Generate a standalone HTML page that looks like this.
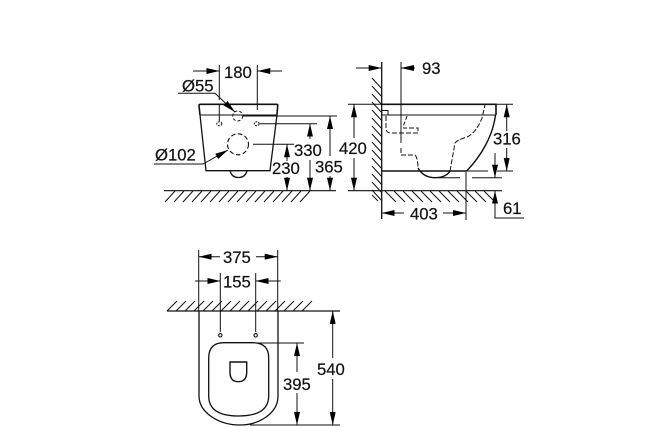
<!DOCTYPE html>
<html>
<head>
<meta charset="utf-8">
<style>
html,body{margin:0;padding:0;background:#fff}
svg{display:block}
text{font-family:"Liberation Sans",sans-serif;font-size:16.7px;fill:#111;stroke:#111;stroke-width:0.2px}
</style>
</head>
<body>
<svg width="661" height="427" viewBox="0 0 661 427" xmlns="http://www.w3.org/2000/svg">
<defs>
<marker id="a" viewBox="0 0 13 6" refX="13" refY="3" markerWidth="13" markerHeight="6" markerUnits="userSpaceOnUse" orient="auto-start-reverse">
<path d="M0 0L13 3L0 6z" fill="#000"/>
</marker>
</defs>
<rect width="661" height="427" fill="#fff"/>

<!-- LEFT VIEW -->
<g fill="none" stroke="#111" stroke-width="1">
<!-- ground -->
<path stroke-width="1.1" d="M164 190.7H336M348 190.7H381" />
<path d="M165 202l10-11m-1 11l10-11m-1 11l10-11m-1 11l10-11m-1 11l10-11m-1 11l10-11m-1 11l10-11m-1 11l10-11m-1 11l10-11m-1 11l10-11m-1 11l10-11m-1 11l10-11m-1 11l10-11m-1 11l10-11m-1 11l10-11m-1 11l10-11" />
<!-- body -->
<path stroke-width="1.6" d="M200 115L199 105.5Q199 104.3 200.5 104.3H276.5Q278 104.3 277.7 105.5L277 115" />
<path d="M200 115H277" />
<path stroke-width="1.3" d="M200 115L206 170.7H270L277 115" />
<path stroke-width="1.3" d="M230 171Q232 177.5 238.5 177.5Q245 177.5 247 171" />
<!-- holes -->
<circle cx="237.7" cy="116" r="5" stroke-dasharray="3 2"/>
<circle cx="238" cy="144.3" r="10.5" stroke-dasharray="4.5 2.5" stroke-width="1.1"/>
<ellipse cx="219.3" cy="123.7" rx="2.5" ry="2" stroke-dasharray="2 1"/>
<ellipse cx="256.7" cy="123.7" rx="2.5" ry="2" stroke-dasharray="2 1"/>
<!-- extensions -->
<path d="M219.3 65V100M219.3 104V121" />
<path d="M257.3 65V110" />
<path d="M243 116H337M260 123.7H317M253 144.3H294" />
<path d="M348 104.3H400" />
<!-- 180 -->
<path d="M193 71H219.3" marker-end="url(#a)"/>
<path d="M282 71H257.3" marker-end="url(#a)"/>
<!-- leaders -->
<path d="M178 93.3H215L235 112" marker-end="url(#a)"/>
<path d="M154 164H203L228 150" marker-end="url(#a)"/>
<!-- vertical dims -->
<path d="M287 161V144.3" marker-end="url(#a)"/>
<path d="M287 177V190.7" marker-end="url(#a)"/>
<path d="M310 139V123.7" marker-end="url(#a)"/>
<path d="M310 160V190.7" marker-end="url(#a)"/>
<path d="M330 156V116" marker-end="url(#a)"/>
<path d="M330 176V190.7" marker-end="url(#a)"/>
<path d="M354 138V104.3" marker-end="url(#a)"/>
<path d="M354 158V190.7" marker-end="url(#a)"/>
</g>
<text x="224" y="78">180</text>
<text x="182" y="91.5">Ø55</text>
<text x="155" y="160.5">Ø102</text>
<text x="294" y="156">330</text>
<text x="272" y="174">230</text>
<text x="315" y="172.5">365</text>
<text x="339" y="154">420</text>

<!-- RIGHT VIEW -->
<g fill="none" stroke="#111" stroke-width="1">
<path stroke-width="1.3" d="M381.7 62V219" />
<path d="M372 78l10 11m-10-3l10 11m-10-3l10 11m-10-3l10 11m-10-3l10 11m-10-3l10 11m-10-3l10 11m-10-3l10 11m-10-3l10 11m-10-3l10 11m-10-3l10 11m-10-3l10 11m-10-3l10 11m-10-3l10 11m-10-3l10 11" />
<path d="M372 195l6 6" />
<path stroke-width="1.1" d="M381.7 190.7H502" />
<path d="M385 191l11 11m-2-11l11 11m-2-11l11 11m-2-11l11 11m-2-11l11 11m-2-11l11 11m-2-11l11 11m-2-11l11 11m-2-11l11 11m-2-11l11 11m-2-11l11 11m-2-11l11 11" />
<!-- bowl -->
<path stroke-width="1.6" d="M381.7 104.3H496V115" />
<path d="M381.7 115H496" />
<path d="M496 104.3H513" />
<path stroke-width="1.4" d="M495.5 115C493 135 482 155 466.7 171" />
<path stroke-width="1.4" d="M381.7 171H467" />
<path d="M467 171H488M497 171H513" />
<path stroke-width="1.4" d="M418 168C422 175 428 177.7 435 177.7C442 177.7 447 176 450 171" />
<path d="M438 177.7H460M472 177.7H502" />
<!-- hidden -->
<path stroke-dasharray="5 2" d="M401 148V155H415C417 157 418 162 418 168" />
<path stroke-dasharray="5 2" d="M450 171L455 143Q457 140 467 137Q476 133 482 118L485 105" />
<path d="M382 110.5H388V115" />
<path stroke-dasharray="5 2" d="M386 116V128Q386 133 391 133H418V128H403" />
<path stroke-dasharray="4 2" d="M407 116L403 127" />
<!-- 93 -->
<path d="M401 62V143" />
<path d="M356 68H381.7" marker-end="url(#a)"/>
<path d="M415 68H401" marker-end="url(#a)"/>
<!-- 316 -->
<path d="M506.7 131V104.3" marker-end="url(#a)"/>
<path d="M506.7 148V171" marker-end="url(#a)"/>
<!-- 61 -->
<path d="M495 153V177.7" marker-end="url(#a)"/>
<path d="M524 218H495V190.7" marker-end="url(#a)"/>
<!-- 403 -->
<path d="M466 172V220" />
<path d="M404 213H381.7" marker-end="url(#a)"/>
<path d="M443 213H466" marker-end="url(#a)"/>
</g>
<text x="422" y="74">93</text>
<text x="493" y="144.5">316</text>
<text x="503" y="214">61</text>
<text x="410" y="219.5">403</text>

<!-- BOTTOM VIEW -->
<g fill="none" stroke="#111" stroke-width="1">
<path stroke-width="1.3" d="M167 311H340" />
<path d="M167 311l10-10m-1 10l10-10m-1 10l10-10m-1 10l10-10m-1 10l10-10m-1 10l10-10m-1 10l10-10m-1 10l10-10m-1 10l10-10m-1 10l10-10m-1 10l10-10m-1 10l10-10m-1 10l10-10m-1 10l10-10m-1 10l10-10m-1 10l10-10" />
<path d="M198.7 250V311M277.7 250V311" />
<path d="M220.3 273V332M255.7 273V332" />
<path stroke-width="1.3" d="M199 311V396C199 412 218 425 240 425C258 425 278 414 278 396V311" />
<path stroke-width="1.3" d="M208.7 358Q208.7 342.7 224 342.7H253Q268.7 342.7 268.7 358V396Q268.7 416 238.5 416Q208.7 416 208.7 396Z" />
<path stroke-width="1.4" d="M230 362H246.7V372Q246.7 381.7 238.3 381.7Q230 381.7 230 372Z" />
<circle cx="220.3" cy="335.3" r="1.7" stroke-width="1.1"/>
<circle cx="255.7" cy="335.3" r="1.7" stroke-width="1.1"/>
<path d="M255 343H304M250 425H340" />
<path d="M220 256.7H198.7" marker-end="url(#a)"/>
<path d="M256 256.7H277.7" marker-end="url(#a)"/>
<path d="M195 281H220.3" marker-end="url(#a)"/>
<path d="M280.7 281H255.7" marker-end="url(#a)"/>
<path d="M297 372V343" marker-end="url(#a)"/>
<path d="M297 393V425" marker-end="url(#a)"/>
<path d="M332.7 358V311" marker-end="url(#a)"/>
<path d="M332.7 379V425" marker-end="url(#a)"/>
</g>
<text x="223" y="263">375</text>
<text x="223" y="287.5">155</text>
<text x="283" y="390">395</text>
<text x="317" y="375">540</text>
</svg>
</body>
</html>
